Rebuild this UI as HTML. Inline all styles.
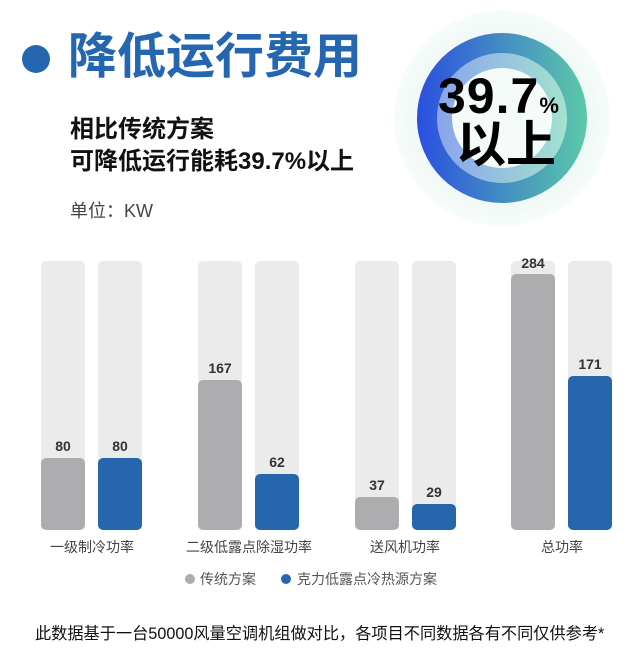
<!DOCTYPE html>
<html><head><meta charset="utf-8"><style>
body{margin:0;width:641px;height:655px;background:#fff;overflow:hidden;font-family:"Liberation Sans","Noto Sans CJK SC",sans-serif;position:relative}
.a{position:absolute;white-space:nowrap}
</style></head><body>
<svg class="a" style="left:0;top:0" width="641" height="655">
<defs>
<linearGradient id="g1" x1="0" x2="1" y1="0" y2="0"><stop offset="0" stop-color="#2a4fe0"/><stop offset="1" stop-color="#5cc9a8"/></linearGradient>
<linearGradient id="g2" x1="0" x2="1"><stop offset="0" stop-color="#8aa4ec"/><stop offset="1" stop-color="#a4e2cf"/></linearGradient>
<radialGradient id="g0"><stop offset="0.75" stop-color="#eef8f5"/><stop offset="1" stop-color="#f7fcfb"/></radialGradient>
</defs>
<circle cx="36" cy="59" r="14" fill="#2566b0"/>
<circle cx="502" cy="118" r="108" fill="url(#g0)"/>
<circle cx="502" cy="118" r="85" fill="url(#g1)"/>
<circle cx="502" cy="118" r="65" fill="url(#g2)"/>
<circle cx="502" cy="118" r="50" fill="#f4fbf9"/>
<g font-family="Liberation Sans,Noto Sans CJK SC,sans-serif">
<rect x="41" y="261" width="44" height="269" rx="5" fill="#ebebeb"/><rect x="41" y="458" width="44" height="72" rx="5" fill="#adadaf"/>
<rect x="98" y="261" width="44" height="269" rx="5" fill="#ebebeb"/><rect x="98" y="458" width="44" height="72" rx="5" fill="#2566ad"/>
<rect x="198" y="261" width="44" height="269" rx="5" fill="#ebebeb"/><rect x="198" y="380" width="44" height="150" rx="5" fill="#adadaf"/>
<rect x="255" y="261" width="44" height="269" rx="5" fill="#ebebeb"/><rect x="255" y="474" width="44" height="56" rx="5" fill="#2566ad"/>
<rect x="355" y="261" width="44" height="269" rx="5" fill="#ebebeb"/><rect x="355" y="497" width="44" height="33" rx="5" fill="#adadaf"/>
<rect x="412" y="261" width="44" height="269" rx="5" fill="#ebebeb"/><rect x="412" y="504" width="44" height="26" rx="5" fill="#2566ad"/>
<rect x="511" y="261" width="44" height="269" rx="5" fill="#ebebeb"/><rect x="511" y="274" width="44" height="256" rx="5" fill="#adadaf"/>
<rect x="568" y="261" width="44" height="269" rx="5" fill="#ebebeb"/><rect x="568" y="376" width="44" height="154" rx="5" fill="#2566ad"/>
<g font-size="14" font-weight="bold" fill="#333" text-anchor="middle">
<text x="63" y="451">80</text><text x="120" y="451">80</text>
<text x="220" y="373">167</text><text x="277" y="467">62</text>
<text x="377" y="490">37</text><text x="434" y="497">29</text>
<text x="533" y="268">284</text><text x="590" y="369">171</text>
</g>
<g font-size="14" fill="#444" text-anchor="middle">
<text x="92" y="552">一级制冷功率</text><text x="249" y="552">二级低露点除湿功率</text>
<text x="405" y="552">送风机功率</text><text x="562" y="552">总功率</text>
</g>
<circle cx="190" cy="579" r="5" fill="#adadaf"/><text x="200" y="584" font-size="14" fill="#555">传统方案</text>
<circle cx="286" cy="579" r="5" fill="#2566ad"/><text x="297" y="584" font-size="14" fill="#555">克力低露点冷热源方案</text>
</g>
</svg>
<div class="a" style="left:68px;top:27px;font-size:49px;font-weight:bold;color:#2566b0;line-height:60px">降低运行费用</div>
<div class="a" style="left:70px;top:114px;font-size:24px;font-weight:bold;color:#111;line-height:32px">相比传统方案<br>可降低运行能耗39.7%以上</div>
<div class="a" style="left:70px;top:199px;font-size:18px;color:#444;line-height:24px">单位：KW</div>
<div class="a" style="left:438px;top:68px;font-size:50px;font-weight:bold;color:#000;line-height:56px;letter-spacing:1px">39.7<span style="font-size:22px">%</span></div>
<div class="a" style="left:456px;top:116px;font-size:50px;font-weight:bold;color:#000;line-height:58px">以上</div>
<div class="a" style="left:35px;top:622px;font-size:16.2px;color:#111;line-height:24px">此数据基于一台50000风量空调机组做对比，各项目不同数据各有不同仅供参考*</div>
</body></html>
